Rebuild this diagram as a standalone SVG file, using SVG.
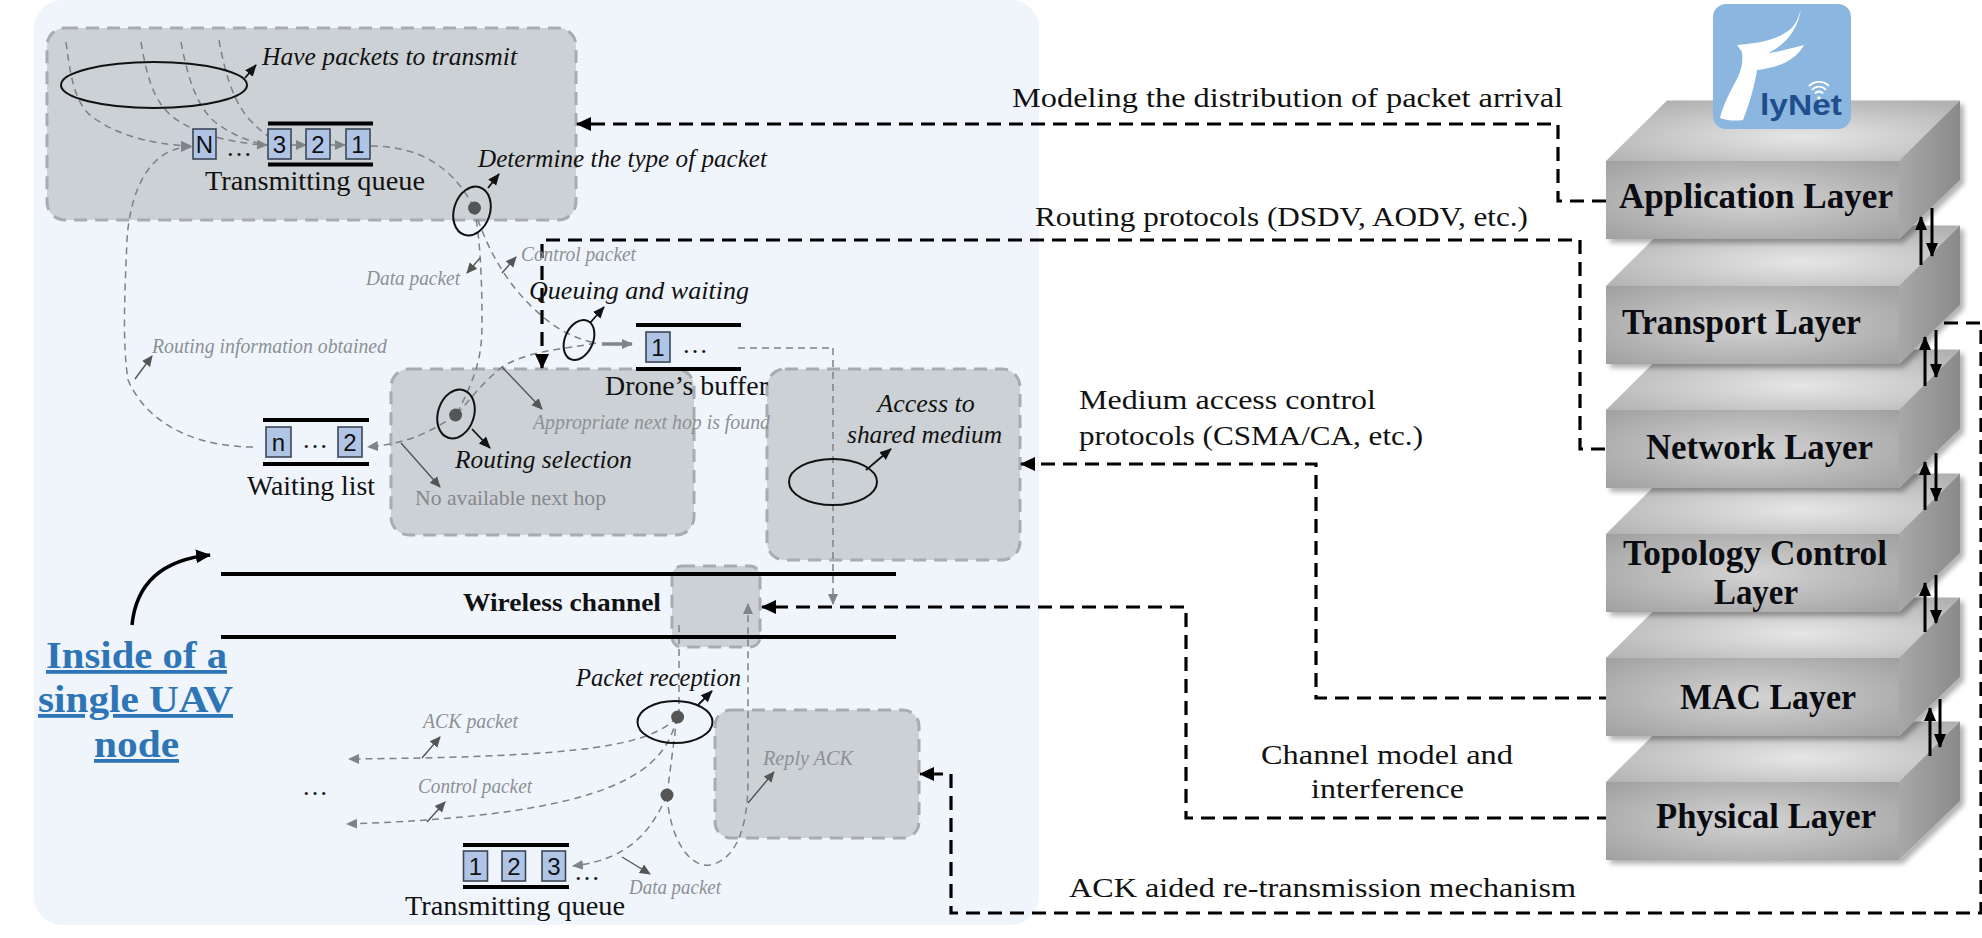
<svg xmlns="http://www.w3.org/2000/svg" width="1982" height="938" viewBox="0 0 1982 938">
<style>
text{font-family:"Liberation Serif","Times New Roman",serif;fill:#111}
.t{font-size:26px}
.i{font-size:26px;font-style:italic}
.g{font-size:20px;font-style:italic;fill:#8c9094}
.gn{font-size:21px;fill:#85898d}
.b{font-size:27px}
.lay{font-size:35px;font-weight:bold;fill:#0b0b12}
.n{font-family:"Liberation Sans",Arial,sans-serif;font-size:24px;text-anchor:middle;fill:#111}
.blue{font-size:38px;font-weight:bold;fill:#2e75b6;text-decoration:underline}
.box{fill:#ccd1d5;stroke:#a8acb0;stroke-width:3;stroke-dasharray:13 8}
.q{fill:#b0c4e6;stroke:#3c4656;stroke-width:1.6}
.bar{stroke:#000;stroke-width:4;fill:none}
.ell{fill:none;stroke:#111;stroke-width:2}
.dot{fill:#555}
.d{fill:none;stroke:#7d8185;stroke-width:1.5;stroke-dasharray:7 5}
.da{fill:none;stroke:#7d8185;stroke-width:1.5;stroke-dasharray:7 5;marker-end:url(#ga)}
.s{fill:none;stroke:#555;stroke-width:1.4;marker-end:url(#ga2)}
.k{fill:none;stroke:#111;stroke-width:1.8;marker-end:url(#ka)}
.bd{fill:none;stroke:#000;stroke-width:3.2;stroke-dasharray:14 8}
.bda{fill:none;stroke:#000;stroke-width:3.2;stroke-dasharray:14 8;marker-end:url(#ba)}
.ud{fill:none;stroke:#000;stroke-width:3;marker-end:url(#ud)}
</style>
<defs>
<marker id="ga" markerUnits="userSpaceOnUse" markerWidth="12" markerHeight="12" refX="10" refY="6" orient="auto"><path d="M0 1L11 6L0 11Z" fill="#808488"/></marker>
<marker id="ga2" markerUnits="userSpaceOnUse" markerWidth="12" markerHeight="12" refX="10" refY="6" orient="auto"><path d="M0 1L11 6L0 11Z" fill="#555"/></marker>
<marker id="ka" markerUnits="userSpaceOnUse" markerWidth="13" markerHeight="12" refX="11" refY="6" orient="auto"><path d="M0 1L12 6L0 11Z" fill="#111"/></marker>
<marker id="ba" markerUnits="userSpaceOnUse" markerWidth="16" markerHeight="16" refX="14" refY="8" orient="auto"><path d="M0 1L15 8L0 15Z" fill="#000"/></marker>
<marker id="ud" markerUnits="userSpaceOnUse" markerWidth="16" markerHeight="16" refX="13" refY="8" orient="auto"><path d="M0 2L14 8L0 14Z" fill="#000"/></marker>
<marker id="cv" markerUnits="userSpaceOnUse" markerWidth="18" markerHeight="18" refX="14" refY="9" orient="auto"><path d="M0 2L15 9L0 16Z" fill="#000"/></marker>
<radialGradient id="fr" cx="50%" cy="50%" r="70%"><stop offset="0" stop-color="#d4d4d4"/><stop offset="1" stop-color="#a0a0a0"/></radialGradient>
<radialGradient id="tp" cx="55%" cy="60%" r="70%"><stop offset="0" stop-color="#e6e6e6"/><stop offset="1" stop-color="#b0b0b0"/></radialGradient>
<linearGradient id="sd" x1="0" y1="0" x2="1" y2="0"><stop offset="0" stop-color="#a8a8a8"/><stop offset="1" stop-color="#8a8a8a"/></linearGradient>
<filter id="sh" x="-5%" y="-5%" width="115%" height="115%"><feDropShadow dx="4" dy="4" stdDeviation="2.500" flood-color="#000" flood-opacity=".3"/></filter>
<g id="block" filter="url(#sh)"><polygon points="0,0 61,-60.5 354,-60.5 293,0" fill="url(#tp)"/><polygon points="293,0 354,-60.5 354,19 293,78" fill="url(#sd)"/><rect width="293" height="78" fill="url(#fr)"/></g>
</defs>

<rect id="panel" x="34" y="0" width="1005" height="925" rx="28" fill="#f0f5fc"/>

<g id="box-transmit"><rect class="box" x="47" y="28" width="529" height="192" rx="18"/></g>
<g id="box-routing"><rect class="box" x="391" y="369" width="303" height="166" rx="18"/></g>
<g id="box-access"><rect class="box" x="767" y="369" width="253" height="191" rx="18"/></g>
<g id="box-channel"><rect class="box" x="672" y="566" width="88" height="81" rx="10"/></g>
<g id="box-reply"><rect class="box" x="715" y="710" width="204" height="128" rx="16"/></g>

<g id="connectors">
<path class="da" d="M66 42C72 90 78 110 100 122C125 138 160 145 191 146"/>
<path class="da" d="M141 42C148 85 157 108 180 122C205 137 240 144 267 145"/>
<path class="d" d="M181 42C188 80 198 108 215 122C232 135 250 142 267 145"/>
<path class="d" d="M219 40C226 80 236 105 250 120C260 130 265 135 272 138"/>
<path class="da" d="M253 447C205 447 150 430 128 380C122 340 125 290 127 240C130 190 150 147 191 147"/>
<path class="da" d="M291 145H306"/>
<path class="da" d="M330 145H345"/>
<path class="d" d="M371 146C410 146 450 160 474 208"/>
<path class="d" d="M474 208C484 240 500 275 530 305C550 325 570 338 596 343"/>
<path class="d" d="M474 208C481 240 482 290 482 320C482 350 480 370 456 415"/>
<path class="d" d="M596 343C560 350 530 350 502 367C480 385 470 400 456 415"/>
<path class="da" d="M456 415C430 432 410 443 368 447"/>
<path d="M602 344H632" fill="none" stroke="#808488" stroke-width="3.5" marker-end="url(#ga)"/>
<path class="d" d="M738 348H833"/>
<path class="da" d="M833 348V604"/>
<path class="d" d="M679 625V717"/>
<path class="da" d="M677 717C650 745 590 757 349 759"/>
<path class="da" d="M677 717C665 770 620 815 347 824"/>
<path class="d" d="M677 717L667 795"/>
<path class="da" d="M667 795C650 835 625 860 573 866"/>
<path class="da" d="M667 795C670 840 690 868 710 865C735 860 748 830 748 780V604"/>
<path class="k" d="M245 78L256 65"/>
<path class="k" d="M488 188L499 174"/>
<path class="k" d="M590 323L604 307"/>
<path class="k" d="M472 429L490 448"/>
<path class="k" d="M866 470L891 449"/>
<path class="k" d="M698 705L712 691"/>
<path class="s" d="M480 258L467 273"/>
<path class="s" d="M502 273L516 257"/>
<path class="s" d="M135 379L152 356"/>
<path class="s" d="M502 367L542 409"/>
<path class="s" d="M401 443L440 487"/>
<path class="s" d="M422 758L440 737"/>
<path class="s" d="M427 822L445 802"/>
<path class="s" d="M622 857L650 874"/>
<path class="s" d="M748 803L774 772"/>
<path class="bda" d="M1606 201H1558V124H577"/>
<path class="bda" d="M1605 449H1580V240H542V368"/>
<path class="bda" d="M1613 698H1316V464H1021"/>
<path class="bda" d="M1611 818H1186V607H762"/>
<path class="bda" d="M1900 323H1981V913H951V774H920"/>
<path d="M132 625C136 585 160 560 210 555" fill="none" stroke="#000" stroke-width="3.5" marker-end="url(#cv)"/>
</g>

<g id="channel"><line class="bar" x1="221" y1="574" x2="896" y2="574"/><line class="bar" x1="221" y1="637" x2="896" y2="637"/>
<text x="463" y="611" class="t" style="font-weight:bold" textLength="198" lengthAdjust="spacingAndGlyphs">Wireless channel</text></g>

<g id="node-arrival"><ellipse class="ell" cx="154" cy="85" rx="93" ry="23"/>
<text x="262" y="65" class="i" textLength="255" lengthAdjust="spacingAndGlyphs">Have packets to transmit</text></g>

<g id="node-queue">
<rect class="q" x="193" y="129" width="23" height="30"/><text x="204.500" y="153" class="n">N</text>
<text x="226" y="156" class="t">…</text>
<rect class="q" x="268" y="129" width="23" height="30"/><text x="279.500" y="153" class="n">3</text>
<rect class="q" x="306" y="129" width="24" height="30"/><text x="318" y="153" class="n">2</text>
<rect class="q" x="346" y="129" width="24" height="30"/><text x="358" y="153" class="n">1</text>
<line class="bar" x1="268" y1="123.500" x2="373" y2="123.500"/><line class="bar" x1="268" y1="164.500" x2="373" y2="164.500"/>
<text x="205" y="190" class="b" textLength="220" lengthAdjust="spacingAndGlyphs">Transmitting queue</text></g>

<g id="node-type"><circle class="dot" cx="474.500" cy="208" r="6.500"/><ellipse class="ell" cx="472" cy="211" rx="18" ry="25" transform="rotate(18 472 211)"/>
<text x="478" y="167" class="i" textLength="289" lengthAdjust="spacingAndGlyphs">Determine the type of packet</text></g>

<g id="labels-type"><text x="366" y="285" class="g" textLength="94" lengthAdjust="spacingAndGlyphs">Data packet</text>
<text x="521" y="261" class="g" textLength="115" lengthAdjust="spacingAndGlyphs">Control packet</text>
<text x="152" y="353" class="g" textLength="235" lengthAdjust="spacingAndGlyphs">Routing information obtained</text></g>

<g id="node-buffer"><ellipse class="ell" cx="579" cy="340" rx="14" ry="21" transform="rotate(24 579 340)"/>
<text x="529" y="299" class="i" textLength="220" lengthAdjust="spacingAndGlyphs">Queuing and waiting</text>
<line class="bar" x1="636" y1="325" x2="741" y2="325"/><line class="bar" x1="636" y1="369" x2="741" y2="369"/>
<rect class="q" x="646" y="332" width="24" height="30"/><text x="658" y="356" class="n">1</text>
<text x="682" y="353" class="t">…</text>
<text x="605" y="395" class="b" textLength="163" lengthAdjust="spacingAndGlyphs">Drone’s buffer</text></g>

<g id="node-routing"><circle class="dot" cx="455.600" cy="415" r="6.500"/><ellipse class="ell" cx="456" cy="414" rx="18" ry="25" transform="rotate(18 456 414)"/>
<text x="455" y="468" class="i" textLength="177" lengthAdjust="spacingAndGlyphs">Routing selection</text>
<text x="533" y="429" class="g" textLength="237" lengthAdjust="spacingAndGlyphs">Appropriate next hop is found</text>
<text x="415" y="505" class="gn" textLength="191" lengthAdjust="spacingAndGlyphs">No available next hop</text></g>

<g id="node-waiting"><line class="bar" x1="263" y1="420" x2="369" y2="420"/><line class="bar" x1="263" y1="464" x2="369" y2="464"/>
<rect class="q" x="266" y="427" width="25" height="30"/><text x="278.500" y="451" class="n">n</text>
<text x="302" y="448" class="t">…</text>
<rect class="q" x="338" y="427" width="24" height="30"/><text x="350" y="451" class="n">2</text>
<text x="247" y="495" class="b" textLength="128" lengthAdjust="spacingAndGlyphs">Waiting list</text></g>

<g id="node-access"><ellipse class="ell" cx="833" cy="482" rx="44" ry="23"/>
<text x="926" y="412" class="i" text-anchor="middle">Access to</text>
<text x="847" y="443" class="i" textLength="155" lengthAdjust="spacingAndGlyphs">shared medium</text></g>

<g id="node-reception"><circle class="dot" cx="677.600" cy="717" r="6.500"/><ellipse class="ell" cx="675" cy="722" rx="37.500" ry="21"/>
<text x="576" y="686" class="i" textLength="165" lengthAdjust="spacingAndGlyphs">Packet reception</text>
<circle class="dot" cx="667" cy="795" r="6.500"/>
<text x="423" y="728" class="g" textLength="95" lengthAdjust="spacingAndGlyphs">ACK packet</text>
<text x="418" y="793" class="g" textLength="114" lengthAdjust="spacingAndGlyphs">Control packet</text>
<text x="302" y="795" class="t">…</text>
<text x="629" y="894" class="g" textLength="92" lengthAdjust="spacingAndGlyphs">Data packet</text>
<text x="763" y="765" class="g" textLength="90" lengthAdjust="spacingAndGlyphs">Reply ACK</text></g>

<g id="node-txqueue"><line class="bar" x1="463" y1="845" x2="569" y2="845"/><line class="bar" x1="463" y1="887" x2="569" y2="887"/>
<rect class="q" x="463.500" y="851" width="24" height="30"/><text x="475.500" y="875" class="n">1</text>
<rect class="q" x="502" y="851" width="23.500" height="30"/><text x="514" y="875" class="n">2</text>
<rect class="q" x="542" y="851" width="23.500" height="30"/><text x="554" y="875" class="n">3</text>
<text x="574" y="880" class="t">…</text>
<text x="405" y="915" class="b" textLength="220" lengthAdjust="spacingAndGlyphs">Transmitting queue</text></g>

<g id="title"><text x="46" y="668" class="blue" textLength="181" lengthAdjust="spacingAndGlyphs">Inside of a</text>
<text x="38" y="712" class="blue" textLength="195" lengthAdjust="spacingAndGlyphs">single UAV</text>
<text x="94" y="757" class="blue" textLength="85" lengthAdjust="spacingAndGlyphs">node</text></g>

<g id="conn-labels">
<text x="1012" y="107" class="b" textLength="551" lengthAdjust="spacingAndGlyphs">Modeling the distribution of packet arrival</text>
<text x="1035" y="226" class="b" textLength="493" lengthAdjust="spacingAndGlyphs">Routing protocols (DSDV, AODV, etc.)</text>
<text x="1079" y="409" class="b" textLength="297" lengthAdjust="spacingAndGlyphs">Medium access control</text>
<text x="1079" y="445" class="b" textLength="344" lengthAdjust="spacingAndGlyphs">protocols (CSMA/CA, etc.)</text>
<text x="1261" y="764" class="b" textLength="252" lengthAdjust="spacingAndGlyphs">Channel model and</text>
<text x="1311" y="798" class="b" textLength="153" lengthAdjust="spacingAndGlyphs">interference</text>
<text x="1069" y="897" class="b" textLength="507" lengthAdjust="spacingAndGlyphs">ACK aided re-transmission mechanism</text>
</g>

<g id="layer-physical"><use href="#block" x="1606" y="782"/><text x="1656" y="828" class="lay" textLength="220" lengthAdjust="spacingAndGlyphs">Physical Layer</text></g>
<g id="layer-mac"><use href="#block" x="1606" y="658"/><text x="1680" y="709" class="lay" textLength="176" lengthAdjust="spacingAndGlyphs">MAC Layer</text></g>
<g id="layer-topology"><use href="#block" x="1606" y="534"/><text x="1623" y="565" class="lay" textLength="264" lengthAdjust="spacingAndGlyphs">Topology Control</text><text x="1714" y="604" class="lay" textLength="84" lengthAdjust="spacingAndGlyphs">Layer</text></g>
<g id="layer-network"><use href="#block" x="1606" y="410"/><text x="1646" y="459" class="lay" textLength="227" lengthAdjust="spacingAndGlyphs">Network Layer</text></g>
<g id="layer-transport"><use href="#block" x="1606" y="286"/><text x="1622" y="334" class="lay" textLength="239" lengthAdjust="spacingAndGlyphs">Transport Layer</text></g>
<g id="layer-application"><use href="#block" x="1606" y="161"/><text x="1619" y="208" class="lay" textLength="274" lengthAdjust="spacingAndGlyphs">Application Layer</text></g>

<g id="logo"><rect x="1713" y="4" width="138" height="125" rx="13" fill="#8ab6e0"/>
<path d="M1801 9C1798 20 1794 27 1788 31C1775 41 1752 44 1737 45L1742 52C1743 62 1742 68 1738 77C1731 90 1723 105 1720 118C1728 121 1736 121 1743 120C1749 105 1754 88 1757 70C1775 68 1795 62 1804 45C1792 48 1778 52 1768 53C1785 45 1798 30 1801 9Z" fill="#fff"/>
<text x="1760" y="115" style="font-family:'Liberation Sans',Arial,sans-serif;font-weight:bold;font-size:29px;fill:#1f4e8c" textLength="82" lengthAdjust="spacingAndGlyphs">lyNet</text>
<g fill="none" stroke="#fff" stroke-width="1.800"><path d="M1809 86A14 14 0 0 1 1829 86"/><path d="M1812 90A9 9 0 0 1 1826 90"/><path d="M1815 93.500A5 5 0 0 1 1823 93.500"/></g><circle cx="1819" cy="98" r="1.800" fill="#fff"/></g>

<g id="layer-arrows">
<path class="ud" d="M1921 265V217"/><path class="ud" d="M1932 208V256"/>
<path class="ud" d="M1925 386V337"/><path class="ud" d="M1936 330V377"/>
<path class="ud" d="M1925 510V462"/><path class="ud" d="M1936 453V501"/>
<path class="ud" d="M1925 632V583"/><path class="ud" d="M1936 575V623"/>
<path class="ud" d="M1930 756V708"/><path class="ud" d="M1940 699V747"/>
</g>
</svg>
